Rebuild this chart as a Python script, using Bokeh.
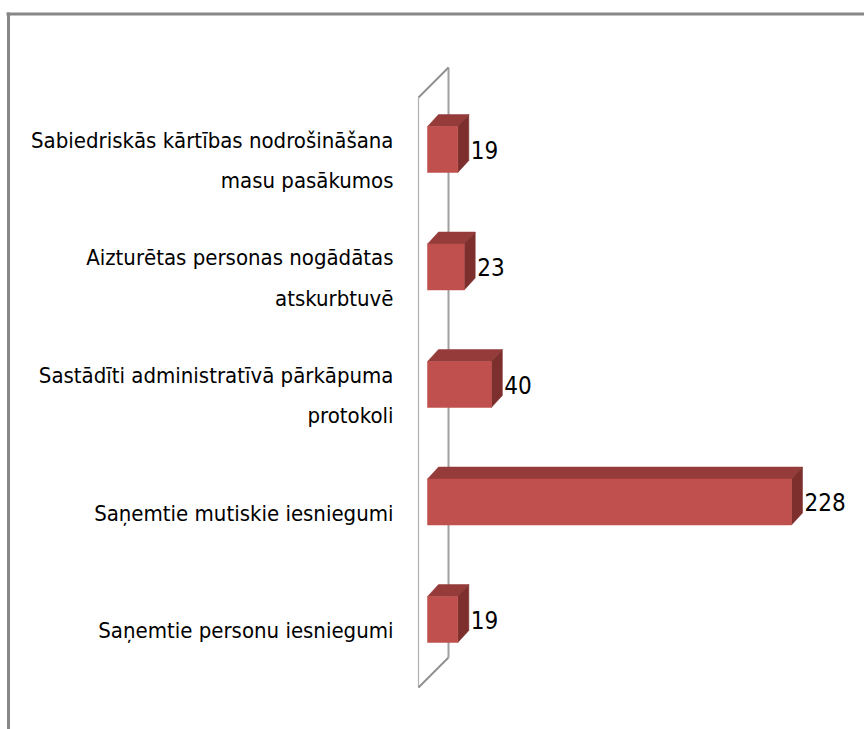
from bokeh.plotting import figure
from bokeh.models import Range1d, ColumnDataSource
from bokeh.core.properties import value
from bokeh.embed import file_html
from bokeh.resources import INLINE

categories = [
    "Sabiedriskās kārtības nodrošināšana\nmasu pasākumos",
    "Aizturētas personas nogādātas\natskurbtuvē",
    "Sastādīti administratīvā pārkāpuma\nprotokoli",
    "Saņemtie mutiskie iesniegumi",
    "Saņemtie personu iesniegumi",
]
values = [19, 23, 40, 228, 19]

# layout constants (pixels)
W, H = 864, 729
PXU = 1.5965        # px per value unit
X0 = 427            # px of value 0 from figure left
ROW = 117.5         # px per category row
ROW0 = 149          # px of first row center from figure top

def ux(px):
    return px / PXU

def uy(px):
    return px / ROW

x_start = -X0 / PXU
x_end = (W - X0) / PXU
y_top = -ROW0 / ROW
y_bot = (H - ROW0) / ROW

p = figure(width=W, height=H, x_range=Range1d(x_start, x_end),
           y_range=Range1d(y_bot, y_top), output_backend="svg",
           toolbar_location=None, min_border=0,
           x_axis_location=None, y_axis_location=None)
p.grid.visible = False
p.outline_line_color = None
p.background_fill_color = "white"
p.border_fill_color = "white"

# chart frame (top and left edges visible)
def fx(px):
    return x_start + px / PXU

def fy(px):
    return y_top + px / ROW

p.line([fx(6), fx(W + 5)], [fy(13.5), fy(13.5)], line_color="#878787", line_width=3)
p.line([fx(8), fx(8)], [fy(12), fy(H + 5)], line_color="#878787", line_width=3)

# 3D axis wall
n = len(values)
wl, wr = ux(-9), ux(21)
wl_top, wl_bot = fy(97), fy(687)
wr_top, wr_bot = fy(67), fy(657)
p.line([wl, wl], [wl_top, wl_bot], line_color="#B0B0B0", line_width=1.2)
p.line([wr, wr], [wr_top, wr_bot], line_color="#A0A0A0", line_width=2)
p.line([wl, wr], [wl_top, wr_top], line_color="#909090", line_width=2)
p.line([wl, wr], [wl_bot, wr_bot], line_color="#909090", line_width=2)

ys = list(range(n))
hh = uy(23)
ddx, ddy = ux(11), uy(12)

src = ColumnDataSource(dict(
    y=ys, v=values, cat=categories,
    top=[y - hh for y in ys], bottom=[y + hh for y in ys],
))

top_xs, top_ys, side_xs, side_ys = [], [], [], []
for y, v in zip(ys, values):
    t, b = y - hh, y + hh
    top_xs.append([0, v, v + ddx, ddx])
    top_ys.append([t, t, t - ddy, t - ddy])
    side_xs.append([v, v + ddx, v + ddx, v])
    side_ys.append([t, t - ddy, b - ddy, b])

p.patches(top_xs, top_ys, fill_color="#953B39", line_color="#953B39", line_width=0.5)
p.patches(side_xs, side_ys, fill_color="#7D2F2D", line_color="#7D2F2D", line_width=0.5)
p.quad(left=0, right="v", top="top", bottom="bottom", source=src,
       fill_color="#C0504D", line_color="#C0504D", line_width=0.5)

FONT = value("'Liberation Sans Narrow', 'DejaVu Sans Condensed', 'Noto Sans'")

# category labels
p.text(x=ux(-34), y=[y + uy(11) for y in ys], text=categories,
       text_align="right", text_baseline="middle", text_font_size="22px",
       text_line_height=1.62, text_font=FONT, text_color="#000000")

# value labels
p.text(x=[v + ux(13) for v in values], y=ys, text=[str(v) for v in values],
       text_align="left", text_baseline="middle", text_font_size="24px",
       text_font=FONT, text_color="#000000")

open("out.html", "w").write(file_html(p, INLINE))
